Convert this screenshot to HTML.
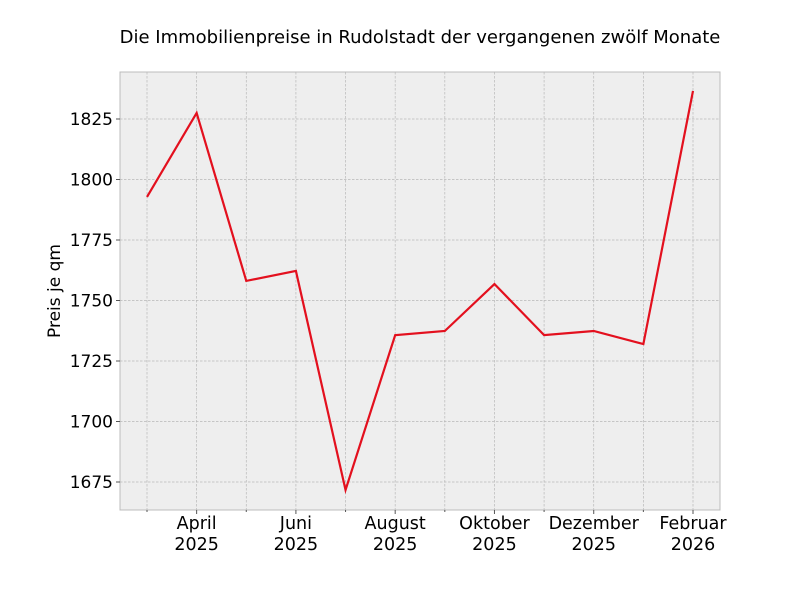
<!DOCTYPE html>
<html><head><meta charset="utf-8"><style>
body{margin:0;background:#fff;}
svg text{font-family:"DejaVu Sans","Liberation Sans",sans-serif;fill:#000;}
</style></head><body>
<svg id="chart" width="800" height="600">
<rect x="0" y="0" width="800" height="600" fill="#fff"/>
<text x="420" y="43" font-size="18" text-anchor="middle">Die Immobilienpreise in Rudolstadt der vergangenen zwölf Monate</text>
<rect x="120" y="72" width="600" height="438" fill="#eeeeee" stroke="#bcbcbc"/>
<g id="grid"></g><g id="ticks"></g>
<path id="line" fill="none" stroke="#e3101e" stroke-width="2.2"/>
<text transform="translate(60,291) rotate(-90)" font-size="17" text-anchor="middle">Preis je qm</text>
</svg>
<script>
const months=["März 2025","April 2025","Mai 2025","Juni 2025","Juli 2025","August 2025","September 2025","Oktober 2025","November 2025","Dezember 2025","Januar 2026","Februar 2026"];
const prices=[1792.8,1827.5,1758.1,1762.2,1671.7,1735.7,1737.4,1756.8,1735.7,1737.4,1732.0,1836.6];
const yTicks=[1675,1700,1725,1750,1775,1800,1825];
const xLabelIdx=[1,3,5,7,9,11];
const xLabels=[["April","2025"],["Juni","2025"],["August","2025"],["Oktober","2025"],["Dezember","2025"],["Februar","2026"]];
const ns="http://www.w3.org/2000/svg";
const X=i=>147+i*(693-147)/11;
const Y=v=>119+(1825-v)*(482-119)/150;
function mk(t,a,p){const e=document.createElementNS(ns,t);for(const k in a)e.setAttribute(k,a[k]);p.appendChild(e);return e;}
const g=document.getElementById('grid'),tk=document.getElementById('ticks');
months.forEach((m,i)=>{
 const l=mk('line',{x1:X(i),x2:X(i),y1:72,y2:510,stroke:'#b8b8b8','stroke-width':0.7,'stroke-dasharray':'2.5,1.5'},g);
 
 
 const major=xLabelIdx.includes(i);
 const t=mk('line',{x1:X(i),x2:X(i),y1:510,y2:major?514:512,stroke:'#555'},tk);
 
 
});
xLabelIdx.forEach((idx,j)=>{
 const t=mk('text',{x:X(idx),y:529,'font-size':17.5,'text-anchor':'middle'},tk);
 
 
 t.textContent=xLabels[j][0];
 const t2=mk('text',{x:X(idx),y:550,'font-size':17.5,'text-anchor':'middle'},tk);
 
 
 t2.textContent=xLabels[j][1];
});
yTicks.forEach(v=>{
 const l=mk('line',{x1:120,x2:720,y1:Y(v),y2:Y(v),stroke:'#b8b8b8','stroke-width':0.7,'stroke-dasharray':'2.5,1.5'},g);
 
 
 const t=mk('line',{x1:116,x2:120,y1:Y(v),y2:Y(v),stroke:'#555'},tk);
 
 
 const tx=mk('text',{x:113,y:Y(v)+6,'font-size':17,'text-anchor':'end'},tk);
 
 
 tx.textContent=v;
});
document.getElementById('line').setAttribute('d',prices.map((v,i)=>(i?'L':'M')+X(i)+','+Y(v)).join(' '));
</script>
</body></html>
